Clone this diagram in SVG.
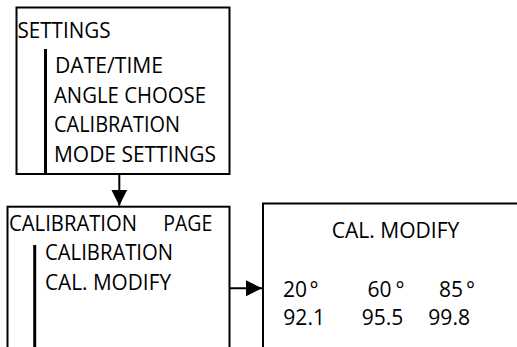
<svg xmlns="http://www.w3.org/2000/svg" width="517" height="347" viewBox="0 0 517 347">
<style>
.box{fill:#fff;stroke:#000;stroke-width:2}
.bar{stroke:#000;stroke-width:3}
.t{font-family:"Open Sans","Liberation Sans",sans-serif;font-size:21px;fill:#000}
.c{stroke:#000;stroke-width:2;fill:none}
</style>
<defs>
<marker id="ah" markerWidth="16" markerHeight="16" viewBox="0 0 16 16" refX="16" refY="8" orient="auto" markerUnits="userSpaceOnUse">
<path d="M0,0 L16,8 L0,16 Z" fill="#000"/>
</marker>
</defs>
<rect width="517" height="347" fill="#fff"/>
<g id="settings">
<rect class="box" x="16.5" y="7.5" width="213" height="166.5"/>
<line class="bar" x1="45.5" y1="49" x2="45.5" y2="174"/>
<text class="t" x="17.5" y="37.5" textLength="93" lengthAdjust="spacingAndGlyphs">SETTINGS</text>
<text class="t" x="55" y="73.3" textLength="108" lengthAdjust="spacingAndGlyphs">DATE/TIME</text>
<text class="t" x="54" y="103" textLength="152" lengthAdjust="spacingAndGlyphs">ANGLE CHOOSE</text>
<text class="t" x="54" y="131.7" textLength="126" lengthAdjust="spacingAndGlyphs">CALIBRATION</text>
<text class="t" x="54" y="161.7" textLength="162" lengthAdjust="spacingAndGlyphs">MODE SETTINGS</text>
</g>
<g id="calibration-page">
<rect class="box" x="7.5" y="206.7" width="222" height="170"/>
<line class="bar" x1="34.7" y1="245" x2="34.7" y2="350"/>
<text class="t" x="9" y="231" textLength="128" lengthAdjust="spacingAndGlyphs">CALIBRATION</text>
<text class="t" x="163.3" y="231" textLength="49" lengthAdjust="spacingAndGlyphs">PAGE</text>
<text class="t" x="45" y="260.3" textLength="128" lengthAdjust="spacingAndGlyphs">CALIBRATION</text>
<text class="t" x="45" y="289.5" textLength="126" lengthAdjust="spacingAndGlyphs">CAL. MODIFY</text>
</g>
<g id="cal-modify">
<rect class="box" x="263" y="203.5" width="270" height="170"/>
<text class="t" x="331.7" y="238" textLength="127.6" lengthAdjust="spacingAndGlyphs">CAL. MODIFY</text>
<text class="t" y="297.2"><tspan x="283">20</tspan><tspan x="309.5">°</tspan></text>
<text class="t" y="297.2"><tspan x="367.5">60</tspan><tspan x="395.5">°</tspan></text>
<text class="t" y="297.2"><tspan x="439">85</tspan><tspan x="466">°</tspan></text>
<text class="t" x="283.3" y="324.7" textLength="41.7" lengthAdjust="spacingAndGlyphs">92.1</text>
<text class="t" x="361.7" y="324.7" textLength="41.6" lengthAdjust="spacingAndGlyphs">95.5</text>
<text class="t" x="428.3" y="324.7" textLength="41.7" lengthAdjust="spacingAndGlyphs">99.8</text>
</g>
<g id="connectors">
<line class="c" x1="119.3" y1="174" x2="119.3" y2="205.7" marker-end="url(#ah)"/>
<line class="c" x1="229.5" y1="288.3" x2="262" y2="288.3" marker-end="url(#ah)"/>
</g>
</svg>
